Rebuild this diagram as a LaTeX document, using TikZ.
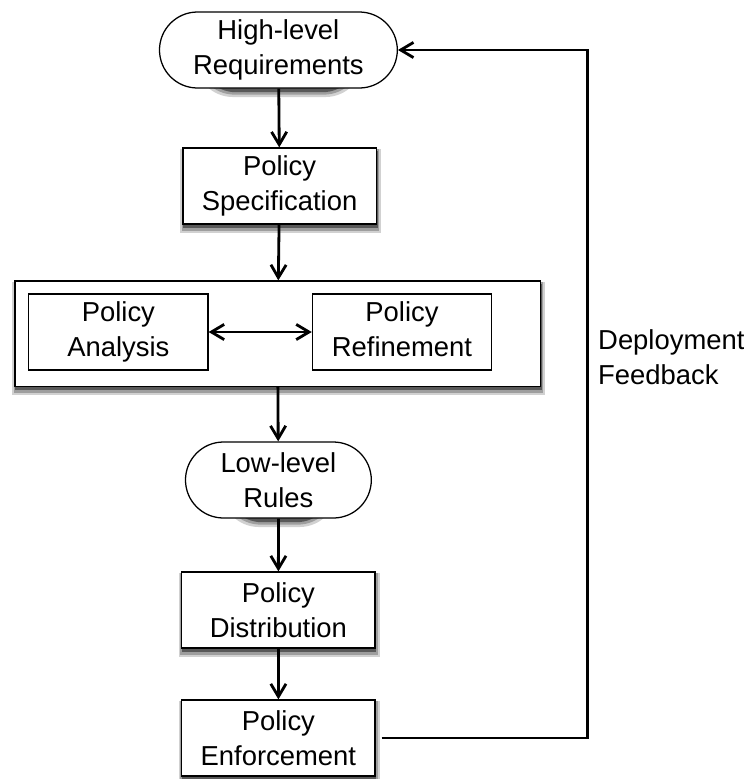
\documentclass[tikz,border=0pt]{standalone}
\usepackage{fontspec}
\setmainfont{Liberation Sans}
\usepackage{tikz}
\usetikzlibrary{arrows.meta,shapes.misc,backgrounds}

\begin{document}
\begin{tikzpicture}
  \tikzstyle{box}=[rectangle,draw,fill=white,line width=0.9pt,minimum width=4.83cm,minimum height=1.9cm,align=center,font=\fontsize{19.5}{25}\selectfont]
  \tikzstyle{term}=[box,rounded rectangle,minimum width=6.18cm]
  \tikzstyle{inner}=[box,minimum width=4.48cm]
  \tikzstyle{every path}=[line width=2pt,-{Straight Barb[length=3.2mm,width=3.8mm,line width=2pt]}]
  \useasboundingbox (0,0) rectangle (18.575,-19.475);
  \node [term] (req) at (6.96,-1.25) {High-level\\Requirements};
  \node [box] (spec) at (6.99,-4.65) {Policy\\Specification};
  \node [box,minimum width=13.13cm,minimum height=2.63cm] (stage) at (6.94,-8.34) {};
  \node [inner] (ana) at (2.96,-8.3) {Policy\\Analysis\vphantom{g}};
  \node [inner] (ref) at (10.05,-8.3) {Policy\\Refinement\vphantom{g}};
  \node [term,minimum width=4.88cm] (rules) at (6.96,-12.0) {Low-level\\Rules};
  \node [box] (dist) at (6.96,-15.25) {Policy\\Distribution};
  \node [box] (enf) at (6.96,-18.45) {Policy\\Enforcement};
  \coordinate (fb) at (14.68,-8.34);
  % soft shadows under the outer boxes
  \begin{scope}[on background layer,every path/.style={}]
    \foreach \n/\r in {req/0.95,spec/0,stage/0,rules/0.95,dist/0,enf/0} {
      \fill [black!18,rounded corners=\r cm] ([xshift=-0.6mm,yshift=-2.1mm]\n.south west) rectangle ([xshift=1mm,yshift=-0.3mm]\n.north east);
      \fill [black!38,rounded corners=\r cm] ([xshift=-0.2mm,yshift=-1.5mm]\n.south west) rectangle ([xshift=0.6mm,yshift=-0.5mm]\n.north east);
      \fill [black!65,rounded corners=\r cm] ([xshift=0.2mm,yshift=-0.9mm]\n.south west) rectangle ([xshift=0.2mm,yshift=-0.9mm]\n.north east);
    }
  \end{scope}
  \draw (req) -- (spec);
  \draw (spec) -- (stage);
  \draw [{Straight Barb[length=3.2mm,width=3.8mm,line width=2pt]}-{Straight Barb[length=3.2mm,width=3.8mm,line width=2pt]}] (ana) -- (ref);
  \draw (stage) -- (rules);
  \draw (rules) -- (dist);
  \draw (dist) -- (enf);
  \draw ([xshift=1.5mm]enf.east) -| (fb) |- (req.east);
  \node [anchor=west,align=left,inner sep=0pt,font=\fontsize{19.5}{25}\selectfont] (label) at (14.92,-8.93) {Deployment\\Feedback};
\end{tikzpicture}
\end{document}
